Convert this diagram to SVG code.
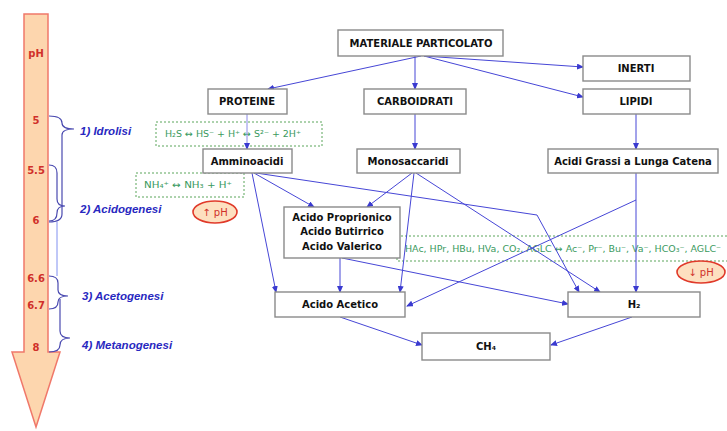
<svg xmlns="http://www.w3.org/2000/svg" width="727" height="431" viewBox="0 0 727 431">
<defs>
<marker id="ah" markerWidth="7" markerHeight="6" refX="6" refY="3" orient="auto" markerUnits="userSpaceOnUse">
<path d="M0,0 L7,3 L0,6 z" fill="#3a3ad0"/>
</marker>
<style>
.box{fill:#fff;stroke:#8a8a8a;stroke-width:1.4}
.lbl{font-family:"DejaVu Sans",Verdana,sans-serif;font-size:10px;font-weight:bold;fill:#111;text-anchor:middle}
.ph{font-family:"DejaVu Sans",Verdana,sans-serif;font-size:10px;font-weight:bold;fill:#d0302a;text-anchor:middle}
.phase{font-family:"Liberation Sans",Arial,sans-serif;font-size:11.5px;font-weight:bold;font-style:italic;fill:#2828c0}
.eq{font-family:"DejaVu Sans",Verdana,sans-serif;font-size:9.5px;fill:#3a9a5e}
.dash{fill:#fff;stroke:#5aa55a;stroke-width:1;stroke-dasharray:2,2}
.con{fill:none;stroke:#4646d6;stroke-width:1;marker-end:url(#ah)}
.brace{fill:none;stroke:#4a4ab0;stroke-width:1.2}
.ell{fill:#fde0c0;stroke:#e03a2a;stroke-width:1.6}
</style>
</defs>
<rect width="727" height="431" fill="#fff"/>

<g id="ph-arrow">
<polygon points="24,14 48,14 48,352 60,352 36,427 12,352 24,352" fill="#fdd6ae" stroke="#f0786a" stroke-width="1.5"/>
<text class="ph" x="36" y="57">pH</text>
<text class="ph" x="36" y="124">5</text>
<text class="ph" x="36" y="174">5.5</text>
<text class="ph" x="36" y="224">6</text>
<text class="ph" x="36" y="282">6.6</text>
<text class="ph" x="36" y="309">6.7</text>
<text class="ph" x="36" y="351">8</text>
</g>

<g id="phases">
<path class="brace" d="M49,116 Q62,116 62,123 Q62,129 74,129 Q62,129 62,135 L62,214 Q62,222 49,222"/>
<path class="brace" d="M49,165 Q57,165 57,173 L57,199 Q57,206 65,206 Q57,206 57,213 Q57,221 49,221"/>
<path d="M57,222 L57,276" fill="none" stroke="#8090f0" stroke-width="1"/>
<path class="brace" d="M49,276 Q58,276 58,283 L58,290 Q58,296 68,296 Q58,296 58,302 Q58,309 49,309"/>
<path class="brace" d="M60,299 L60,331 Q60,338 70,338 Q60,338 60,345 Q60,352 49,352"/>
<text class="phase" x="80" y="135">1) Idrolisi</text>
<text class="phase" x="80" y="213">2) Acidogenesi</text>
<text class="phase" x="82" y="300">3) Acetogenesi</text>
<text class="phase" x="82" y="349">4) Metanogenesi</text>
</g>

<g id="eq-h2s">
<rect class="dash" x="156" y="122" width="166" height="24"/>
<text class="eq" x="165" y="137" textLength="136" lengthAdjust="spacingAndGlyphs">H₂S  ↔ HS⁻ + H⁺ ↔ S²⁻ + 2H⁺</text>
</g>
<g id="eq-nh4">
<rect class="dash" x="136" y="173" width="108" height="24"/>
<text class="eq" x="144" y="188" textLength="88" lengthAdjust="spacingAndGlyphs">NH₄⁺ ↔ NH₃ + H⁺</text>
</g>
<g id="eq-acids">
<rect class="dash" x="397" y="236" width="335" height="25"/>
<text class="eq" x="405" y="252" textLength="316" lengthAdjust="spacingAndGlyphs">HAc, HPr, HBu, HVa, CO₂, AGLC ↔ Ac⁻, Pr⁻, Bu⁻, Va⁻, HCO₃⁻, AGLC⁻</text>
</g>

<g id="connectors">
<path class="con" d="M421,56 L268,89"/>
<path class="con" d="M415,56 L415,89"/>
<path class="con" d="M424,56 L583,67"/>
<path class="con" d="M424,56 L583,97"/>
<path d="M247,114 L247,149" fill="none" stroke="#8a8ae8" stroke-width="1" marker-end="url(#ah)"/>
<path class="con" d="M415,114 L415,149"/>
<path class="con" d="M636,114 L636,149"/>
<path class="con" d="M252,173 L276,292"/>
<path class="con" d="M254,173 L314,207"/>
<path class="con" d="M256,173 L537,215 L579,292"/>
<path class="con" d="M412,173 L367,207"/>
<path class="con" d="M414,173 L400,292"/>
<path class="con" d="M416,173 L600,292"/>
<path class="con" d="M636,173 L636,292"/>
<path class="con" d="M636,200 L407,306"/>
<path class="con" d="M340,258 L340,292"/>
<path class="con" d="M342,258 L568,304"/>
<path class="con" d="M340,317 L422,345"/>
<path class="con" d="M632,317 L551,345"/>
</g>

<g id="n-materiale"><rect class="box" x="338" y="30" width="165" height="26"/><text class="lbl" x="421" y="47">MATERIALE PARTICOLATO</text></g>
<g id="n-inerti"><rect class="box" x="583" y="56" width="107" height="25"/><text class="lbl" x="636" y="72">INERTI</text></g>
<g id="n-proteine"><rect class="box" x="208" y="89" width="79" height="25"/><text class="lbl" x="247" y="105">PROTEINE</text></g>
<g id="n-carboidrati"><rect class="box" x="364" y="89" width="102" height="25"/><text class="lbl" x="415" y="105">CARBOIDRATI</text></g>
<g id="n-lipidi"><rect class="box" x="583" y="89" width="107" height="25"/><text class="lbl" x="636" y="105">LIPIDI</text></g>
<g id="n-amminoacidi"><rect class="box" x="203" y="149" width="89" height="24"/><text class="lbl" x="247" y="165">Amminoacidi</text></g>
<g id="n-monosaccaridi"><rect class="box" x="357" y="149" width="103" height="24"/><text class="lbl" x="408" y="165">Monosaccaridi</text></g>
<g id="n-acidigrassi"><rect class="box" x="548" y="149" width="170" height="24"/><text class="lbl" x="633" y="165">Acidi Grassi a Lunga Catena</text></g>
<g id="n-acidi-vfa"><rect class="box" x="284" y="207" width="116" height="51"/>
<text class="lbl" x="342" y="221">Acido Proprionico</text>
<text class="lbl" x="342" y="235">Acido Butirrico</text>
<text class="lbl" x="342" y="250">Acido Valerico</text></g>
<g id="n-acetico"><rect class="box" x="275" y="292" width="130" height="25"/><text class="lbl" x="340" y="308">Acido Acetico</text></g>
<g id="n-h2"><rect class="box" x="568" y="292" width="132" height="25"/><text class="lbl" x="634" y="308">H₂</text></g>
<g id="n-ch4"><rect class="box" x="422" y="333" width="128" height="27"/><text class="lbl" x="486" y="350">CH₄</text></g>

<g id="ph-up"><ellipse class="ell" cx="215" cy="212" rx="22" ry="11"/><text class="ph" x="215" y="216" style="font-weight:normal">↑ pH</text></g>
<g id="ph-down"><ellipse class="ell" cx="701" cy="272" rx="24" ry="11"/><text class="ph" x="701" y="276" style="font-weight:normal">↓ pH</text></g>
</svg>
